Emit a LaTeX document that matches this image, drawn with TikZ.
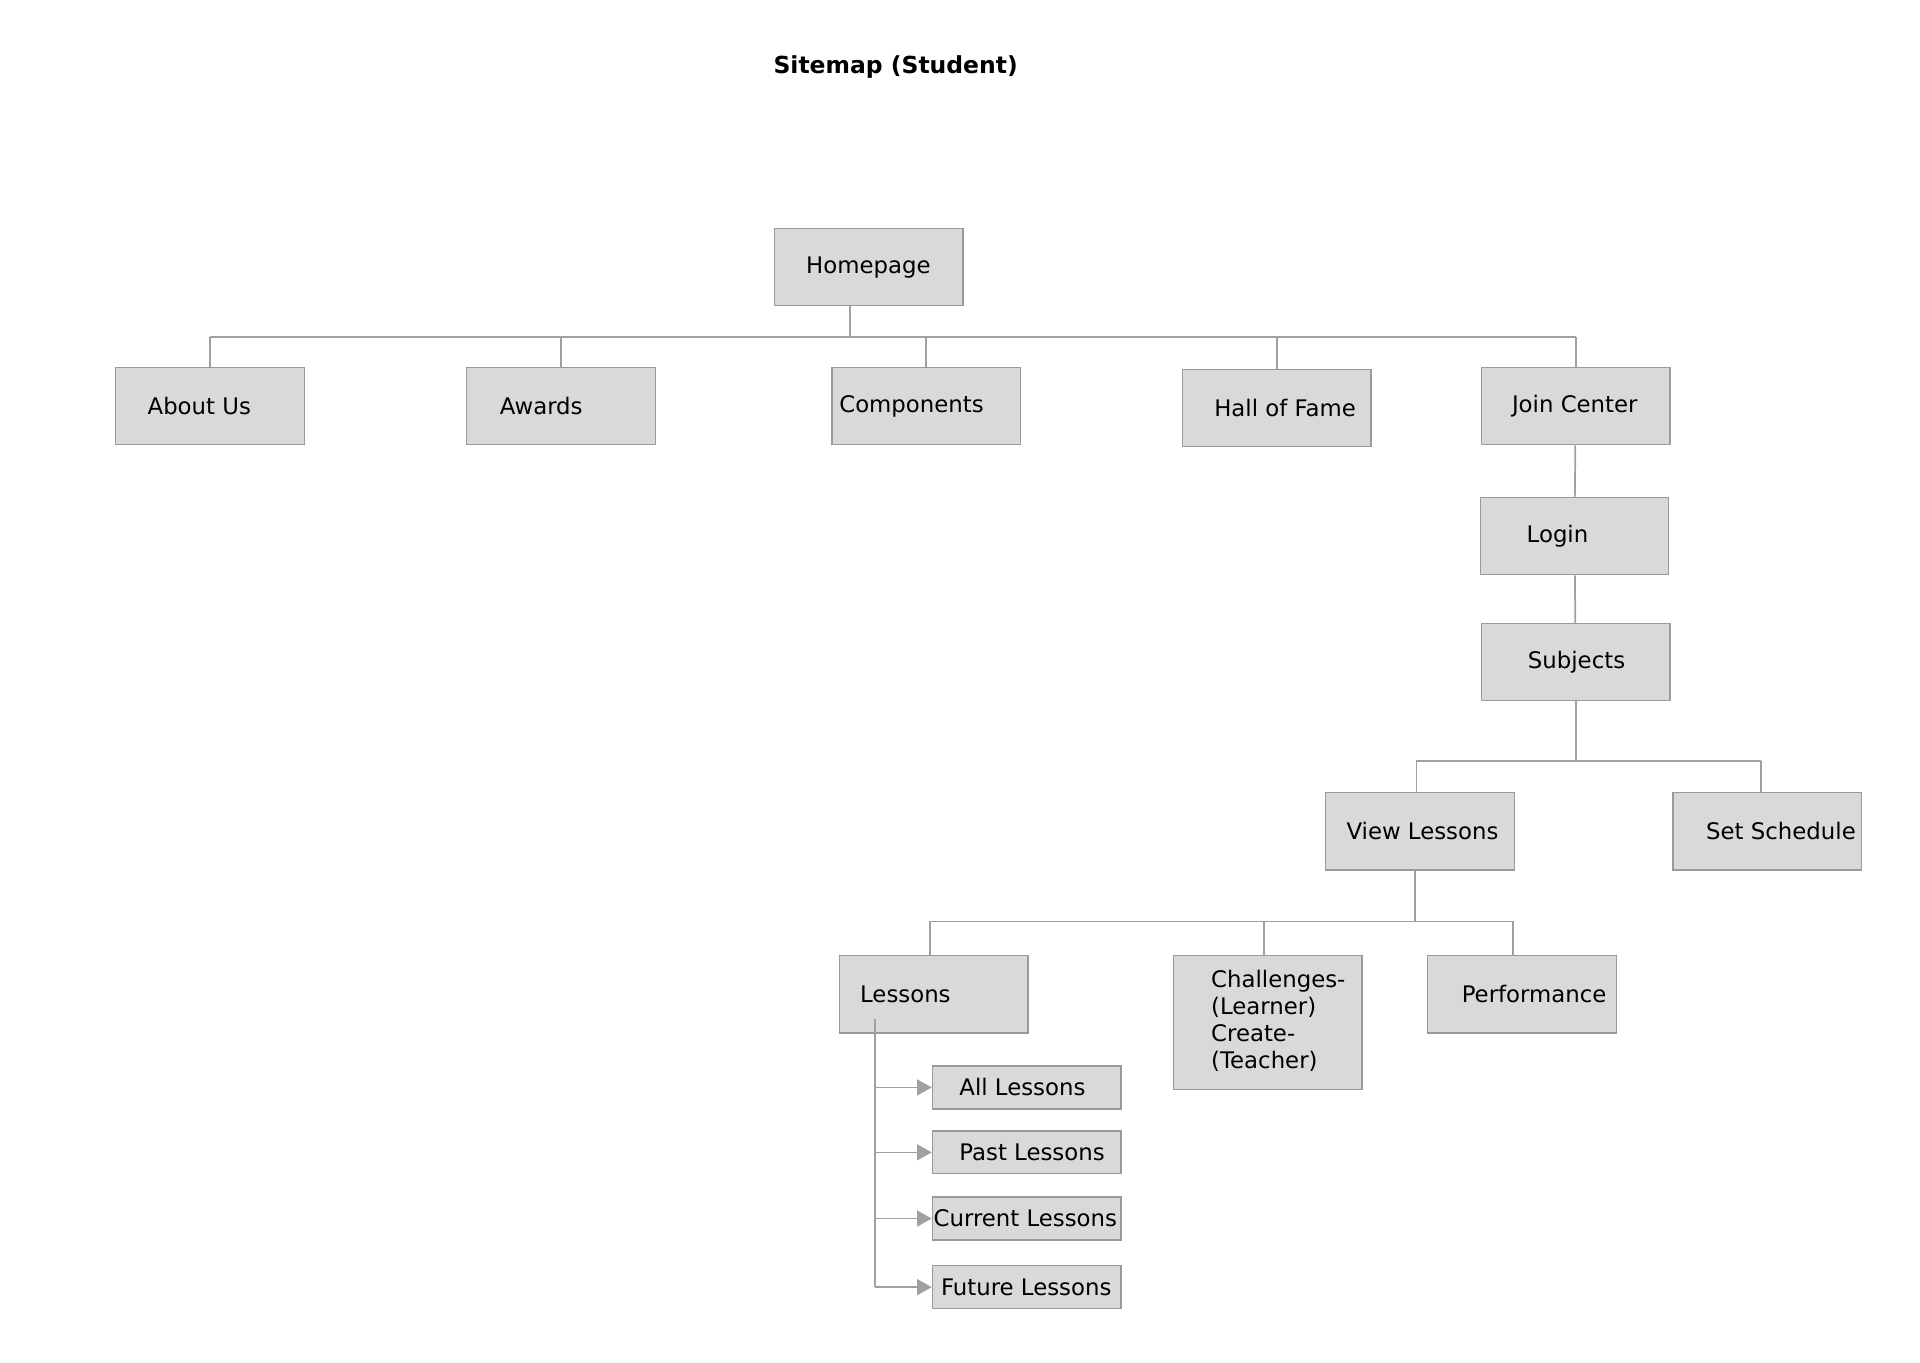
\documentclass[tikz,border=0pt]{standalone}
\usepackage{fontspec}
\setmainfont{DejaVu Sans}
\usepackage{xcolor}
\usetikzlibrary{arrows.meta,calc,positioning}

\definecolor{boxfill}{HTML}{D9D9D9}
\definecolor{boxline}{HTML}{9A9A9A}
\definecolor{linkgray}{HTML}{A0A0A0}

% one unit of the picture
\newlength{\pxu}\setlength{\pxu}{0.02cm}
% text in a box, pushed in from the left edge
\newcommand{\padtext}[2]{\makebox[154\pxu][l]{\hspace*{#1\pxu}#2}}

\begin{document}
\begin{tikzpicture}[
  x=0.02cm, y=-0.02cm,
  font=\fontsize{10.6}{12.5}\selectfont,
  page/.style={draw=boxline, fill=boxfill, line width=0.6pt, inner sep=0pt,
    minimum width=3.08cm, minimum height=1.26cm},
  subpage/.style={page, minimum height=0.7cm},
  link/.style={draw=linkgray, line width=0.8pt},
  arrow/.style={link, -{Triangle[length=0.24cm, width=0.26cm]}}
]
\useasboundingbox (0,0) rectangle (1567,1111.6);

% titel
\node[font=\fontsize{10.9}{12.5}\selectfont\bfseries] (title) at (731,55) {Sitemap (Student)};

% erste Ebene
\node[page] (home) at (709,218) {\padtext{26}{Homepage}};

\node[page] (about)  at (171.5,331.5) {\padtext{26}{About Us}};
\node[page] (awards) at (458,331.5)   {\padtext{27}{Awards}};
\node[page] (comp)   at (756,331.5)   {\padtext{6}{Components}};
\node[page] (hall)   at (1042,333)    {\padtext{26}{Hall of Fame}};
\node[page] (join)   at (1286,331.5)  {\padtext{25}{Join Center}};

% Homepage -> Bus
\coordinate (bus1) at (694,275);
\draw[link] ($(home.south)+(-15,0)$) -- (bus1);
\draw[link] (about.north |- bus1) -- (join.north |- bus1);
\foreach \p in {about,awards,comp,hall,join}
  \draw[link] (\p.north |- bus1) -- (\p.north);

% Join Center -> Login -> Subjects
\node[page] (login) at (1285,437.5) {\padtext{38}{Login}};
\node[page] (subj)  at (1286,540.5) {\padtext{38}{Subjects}};
\draw[link] (join) -- (login);
\draw[link] (login) -- (subj);

% Subjects -> View Lessons / Set Schedule
\node[page] (view)  at (1159,678.5)   {\padtext{17}{View Lessons}};
\node[page] (sched) at (1442.5,678.5) {\padtext{27}{Set Schedule}};

\coordinate (bus2) at (1286,621);
\draw[link] (subj.south) -- (bus2);
\draw[link] ($(view.north |- bus2)+(-3,0)$) -- ($(sched.north |- bus2)+(-5,0)$);
\draw[link] ($(view.north |- bus2)+(-3,0)$) -- ($(view.north)+(-3,0)$);
\draw[link] ($(sched.north |- bus2)+(-5,0)$) -- ($(sched.north)+(-5,0)$);

% View Lessons -> Lessons / Challenges / Performance
\node[page] (lessons) at (762,811.5) {\padtext{17}{Lessons}};
\node[page, minimum height=2.18cm] (chall) at (1034.5,834.5)
  {\padtext{31}{\begin{tabular}{@{}l@{}}Challenges-\\(Learner)\\Create-\\(Teacher)\end{tabular}}};
\node[page] (perf) at (1242,811.5) {\padtext{28}{Performance}};

\coordinate (bus3) at (1155,752);
\draw[link] ($(view.south)+(-4,0)$) -- (bus3);
\draw[link] ($(lessons.north |- bus3)+(-3,0)$) -- ($(perf.north |- bus3)+(-7,0)$);
\draw[link] ($(lessons.north |- bus3)+(-3,0)$) -- ($(lessons.north)+(-3,0)$);
\draw[link] ($(chall.north |- bus3)+(-3,0)$) -- ($(chall.north)+(-3,0)$);
\draw[link] ($(perf.north |- bus3)+(-7,0)$) -- ($(perf.north)+(-7,0)$);

% Unterseiten von Lessons
\node[subpage] (all)     at (838,887.5)  {\padtext{22}{All Lessons}};
\node[subpage] (past)    at (838,940.5)  {\padtext{22}{Past Lessons}};
\node[subpage] (current) at (838,994.5)  {\padtext{1}{Current Lessons}};
\node[subpage] (future)  at (838,1050.5) {\padtext{7}{Future Lessons}};

\coordinate (trunk) at (714,832);
\draw[link] (trunk) -- (trunk |- future.west);
\foreach \p in {all,past,current,future}
  \draw[arrow] (trunk |- \p.west) -- (\p.west);

\end{tikzpicture}
\end{document}
